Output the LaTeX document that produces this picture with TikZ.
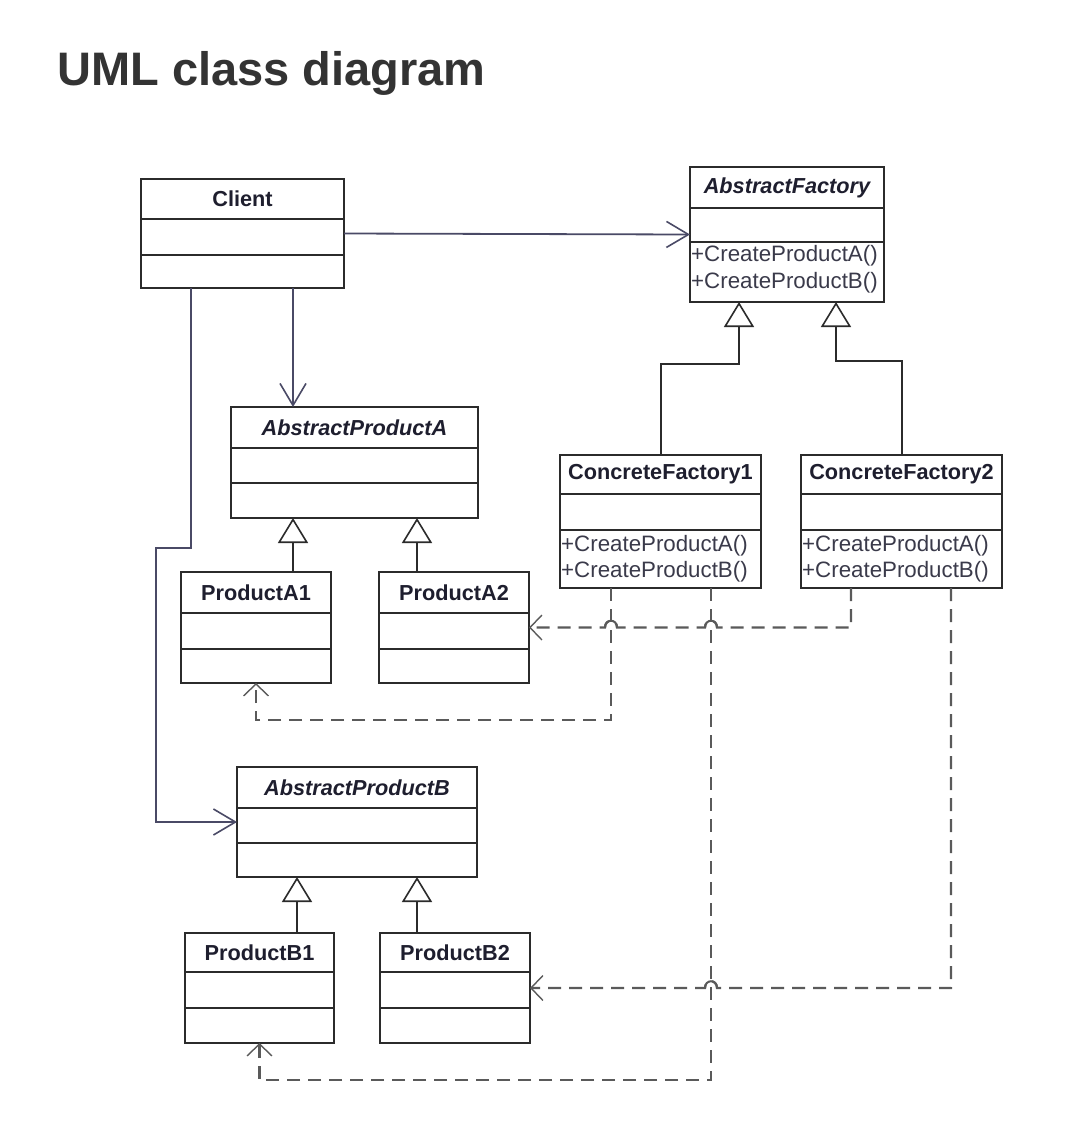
\documentclass[tikz,border=0pt]{standalone}
\usepackage{fontspec}
\setmainfont{Liberation Sans}
\usetikzlibrary{arrows.meta,calc}
\definecolor{boxc}{HTML}{2B2B2B}
\definecolor{ttl}{HTML}{333333}
\definecolor{clsTxt}{HTML}{1E1E2E}
\definecolor{methTxt}{HTML}{3A3A4A}
\definecolor{assoc}{HTML}{4A4A66}
\definecolor{depc}{HTML}{5A5A5A}
\tikzset{
  clsbox/.style={draw=boxc, line width=2pt, fill=white, rectangle, inner sep=0pt, outer sep=0pt},
  clsline/.style={draw=boxc, line width=1.8pt},
  clstitle/.style={inner sep=0pt, text=clsTxt, font=\fontsize{21.7}{25}\selectfont\bfseries},
  meth/.style={anchor=west, inner sep=0pt, text=methTxt, font=\fontsize{22.3}{26}\selectfont},
  assocline/.style={draw=assoc, line width=1.8pt, -{Straight Barb[length=22pt,width=26pt,line width=1.6pt]}},
  inh/.style={draw=boxc, line width=2pt, -{Triangle[fill=white,length=25pt,width=30pt,line width=1.6pt]}},
  dep/.style={draw=depc, line width=2.2pt, dash pattern=on 13pt off 8pt, -{Straight Barb[length=12pt,width=25pt,line width=1.4pt]}},
  hop/.style={draw=depc, line width=2pt}
}
% #1 name, #2 x1, #3 y1, #4 x2, #5 y2, #6 divider1, #7 divider2, #8 title
\newcommand\umlcls[8]{%
  \node[clsbox, minimum width={#4-#2}, minimum height={#5-#3}, anchor=north west] (#1) at (#2,#3) {};
  \draw[clsline] (#2,#6) -- (#4,#6) (#2,#7) -- (#4,#7);
  \node[clstitle] (#1-name) at ({(#2+#4)/2},{(#3+#6)/2}) {#8};
}
\begin{document}
\begin{tikzpicture}[x=1pt,y=-1pt]
\useasboundingbox (0,0) rectangle (1074,1144);
\fill[white] (0,0) rectangle (1074,1144);

\node[anchor=base west, inner sep=0pt, text=ttl, font=\fontsize{47}{56}\selectfont\bfseries] (title) at (57,85) {UML class diagram};

% classes
\umlcls{client}{141}{179}{344}{288}{219}{255}{Client}
\umlcls{af}{690}{167}{884}{302}{208}{242}{\itshape AbstractFactory}
\node[meth] (afm1) at (691,256) {+CreateProductA()};
\node[meth] (afm2) at (691,283) {+CreateProductB()};

\umlcls{cf1}{560}{455}{761}{588}{494}{530}{ConcreteFactory1}
\node[meth] (cf1m1) at (561,546) {+CreateProductA()};
\node[meth] (cf1m2) at (561,572) {+CreateProductB()};
\umlcls{cf2}{801}{455}{1002}{588}{494}{530}{ConcreteFactory2}
\node[meth] (cf2m1) at (802,546) {+CreateProductA()};
\node[meth] (cf2m2) at (802,572) {+CreateProductB()};

\umlcls{apa}{231}{407}{478}{518}{448}{483}{\itshape AbstractProductA}
\umlcls{pa1}{181}{572}{331}{683}{613}{649}{ProductA1}
\umlcls{pa2}{379}{572}{529}{683}{613}{649}{ProductA2}

\umlcls{apb}{237}{767}{477}{877}{808}{843}{\itshape AbstractProductB}
\umlcls{pb1}{185}{933}{334}{1043}{972}{1008}{ProductB1}
\umlcls{pb2}{380}{933}{530}{1043}{972}{1008}{ProductB2}

% associations from Client
\draw[assocline] (client.east) -- (af.west);
\coordinate (clA) at ([xshift=152pt]client.south west);
\coordinate (clB) at ([xshift=50pt]client.south west);
\draw[assocline] (clA) -- (clA |- apa.north);
\draw[assocline] (clB) -- ++(0,260) -- ++(-35,0) |- (apb.west);

% inheritance
\draw[inh] (cf1.north) -- ++(0,-91) -| ([xshift=49pt]af.south west);
\draw[inh] (cf2.north) -- ++(0,-94) -| ([xshift=146pt]af.south west);
\coordinate (pa1t) at ([xshift=37pt]pa1.north);
\coordinate (pa2t) at ([xshift=-37pt]pa2.north);
\coordinate (pb1t) at ([xshift=37.5pt]pb1.north);
\coordinate (pb2t) at ([xshift=-38pt]pb2.north);
\draw[inh] (pa1t) -- (pa1t |- apa.south);
\draw[inh] (pa2t) -- (pa2t |- apa.south);
\draw[inh] (pb1t) -- (pb1t |- apb.south);
\draw[inh] (pb2t) -- (pb2t |- apb.south);

% dependencies (dashed)
\coordinate (c1a) at ([xshift=51pt]cf1.south west);
\coordinate (c1b) at ([xshift=151pt]cf1.south west);
\coordinate (c2a) at ([xshift=50pt]cf2.south west);
\coordinate (c2b) at ([xshift=150pt]cf2.south west);
\coordinate (h1) at (c1b |- pa2.east);
\coordinate (h2) at (c1a |- pa2.east);
\coordinate (h3) at (c1b |- pb2.east);

\draw[dep] (c2a) |- ([xshift=6pt]h1) .. controls +(0,-9) and +(0,-9) .. ([xshift=-6pt]h1)
  -- ([xshift=6pt]h2) .. controls +(0,-9) and +(0,-9) .. ([xshift=-6pt]h2) -- (pa2.east);
\draw[dep] (c1a) -- ++(0,132) -| (pa1.south);
\draw[dep] (c2b) |- ([xshift=6pt]h3) .. controls +(0,-9) and +(0,-9) .. ([xshift=-6pt]h3) -- (pb2.east);
\draw[dep] (c1b) -- ++(0,492) -| (pb1.south);
% solid line hops over crossings
\draw[hop] ([xshift=6pt]h1) .. controls +(0,-9) and +(0,-9) .. ([xshift=-6pt]h1);
\draw[hop] ([xshift=6pt]h2) .. controls +(0,-9) and +(0,-9) .. ([xshift=-6pt]h2);
\draw[hop] ([xshift=6pt]h3) .. controls +(0,-9) and +(0,-9) .. ([xshift=-6pt]h3);
\end{tikzpicture}
\end{document}
